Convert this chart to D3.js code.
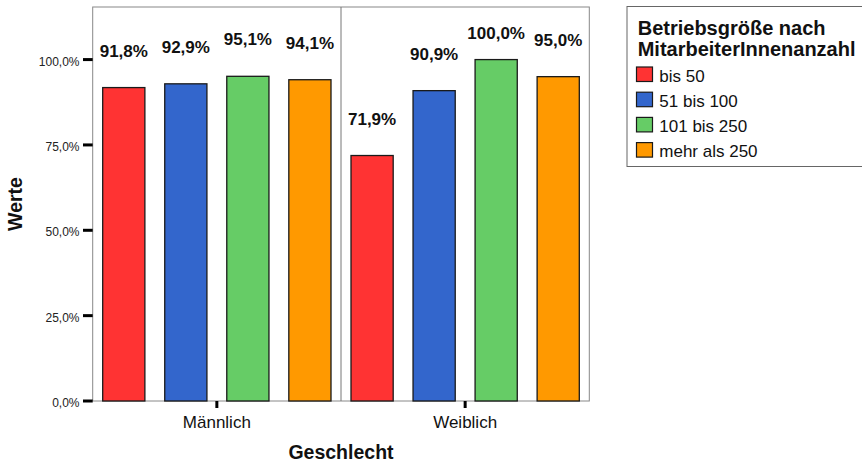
<!DOCTYPE html>
<html>
<head>
<meta charset="utf-8">
<script src="https://cdn.jsdelivr.net/npm/d3@7"></script>
<style>
  html, body { margin: 0; padding: 0; background: #fff; }
  svg { display: block; font-family: "Liberation Sans", Arial, Helvetica, sans-serif; }
</style>
</head>
<body>
<svg id="chart" width="862" height="466"></svg>
<script>
const categories = ["Männlich", "Weiblich"];
const seriesNames = ["bis 50", "51 bis 100", "101 bis 250", "mehr als 250"];
const seriesColors = ["#FF3333", "#3366CC", "#66CC66", "#FF9900"];
const maleValues = [91.8, 92.9, 95.1, 94.1];
const femaleValues = [71.9, 90.9, 100.0, 95.0];
const yTicks = [0, 25, 50, 75, 100];
const legendTitle = ["Betriebsgröße nach", "MitarbeiterInnenanzahl"];
const xTitle = "Geschlecht";
const yTitle = "Werte";

const valuesByCategory = [maleValues, femaleValues];

const svg = d3.select("#chart");
const plot = { left: 92.7, right: 589.3, top: 7, bottom: 401 };

const x = d3.scaleBand().domain(categories).range([plot.left, plot.right]).padding(0);
const xInner = d3.scaleBand().domain(seriesNames)
  .range([10, x.bandwidth() - 10]).paddingInner(0.32).paddingOuter(0);
const y = d3.scaleLinear().domain([0, 115.4]).range([plot.bottom, plot.top]);

const fmt = v => d3.format(".1f")(v).replace(".", ",") + "%";

// plot frame
svg.append("rect")
  .attr("x", plot.left).attr("y", plot.top)
  .attr("width", plot.right - plot.left).attr("height", plot.bottom - plot.top)
  .attr("fill", "none").attr("stroke", "#888").attr("stroke-width", 1);

// divider between categories
svg.append("line")
  .attr("x1", x("Weiblich")).attr("x2", x("Weiblich"))
  .attr("y1", plot.top).attr("y2", plot.bottom)
  .attr("stroke", "#777").attr("stroke-width", 1);

// bars
const groups = svg.selectAll("g.grp")
  .data(categories.map((c, i) => ({ cat: c, vals: valuesByCategory[i] })))
  .join("g").attr("class", "grp")
  .attr("transform", d => `translate(${x(d.cat)},0)`);

groups.selectAll("rect")
  .data(d => d.vals.map((v, i) => ({ name: seriesNames[i], v, color: seriesColors[i] })))
  .join("rect")
  .attr("x", d => xInner(d.name))
  .attr("width", xInner.bandwidth())
  .attr("y", d => y(d.v))
  .attr("height", d => y(0) - y(d.v))
  .attr("fill", d => d.color)
  .attr("stroke", "#1a1a1a").attr("stroke-width", 1.3);

groups.selectAll("text.lbl")
  .data(d => d.vals.map((v, i) => ({ name: seriesNames[i], v })))
  .join("text").attr("class", "lbl")
  .attr("x", d => xInner(d.name) + xInner.bandwidth() / 2)
  .attr("y", d => Math.max(y(d.v) - 31, 39))
  .attr("text-anchor", "middle")
  .attr("font-size", 17).attr("font-weight", "bold").attr("fill", "#111")
  .text(d => fmt(d.v));

// y axis
const yAxis = svg.append("g");
yAxis.selectAll("line").data(yTicks).join("line")
  .attr("x1", 83).attr("x2", plot.left)
  .attr("y1", d => y(d)).attr("y2", d => y(d))
  .attr("stroke", "#000").attr("stroke-width", 3);
yAxis.selectAll("text").data(yTicks).join("text")
  .attr("x", 79.5).attr("y", d => y(d)).attr("dy", "0.5em")
  .attr("text-anchor", "end").attr("font-size", 12).attr("fill", "#222")
  .text(d => fmt(d));

// x axis
const xAxis = svg.append("g");
xAxis.selectAll("line").data(categories).join("line")
  .attr("x1", d => x(d) + x.bandwidth() / 2).attr("x2", d => x(d) + x.bandwidth() / 2)
  .attr("y1", plot.bottom).attr("y2", plot.bottom + 7)
  .attr("stroke", "#000").attr("stroke-width", 3);
xAxis.selectAll("text").data(categories).join("text")
  .attr("x", d => x(d) + x.bandwidth() / 2).attr("y", 428.3)
  .attr("text-anchor", "middle").attr("font-size", 17).attr("fill", "#111")
  .text(d => d);

// axis titles
svg.append("text")
  .attr("x", (plot.left + plot.right) / 2).attr("y", 459.3)
  .attr("text-anchor", "middle").attr("font-size", 19.5).attr("font-weight", "bold")
  .attr("fill", "#111").text(xTitle);
svg.append("text")
  .attr("transform", `translate(21.7,${(plot.top + plot.bottom) / 2}) rotate(-90)`)
  .attr("text-anchor", "middle").attr("font-size", 19.5).attr("font-weight", "bold")
  .attr("fill", "#111").text(yTitle);

// legend
const lg = svg.append("g");
lg.append("rect")
  .attr("x", 627).attr("y", 6.5).attr("width", 250).attr("height", 160)
  .attr("fill", "#fff").attr("stroke", "#666").attr("stroke-width", 1);
lg.selectAll("text.title").data(legendTitle).join("text").attr("class", "title")
  .attr("x", 637.7).attr("y", (d, i) => 35 + i * 21)
  .attr("font-size", 20).attr("font-weight", "bold").attr("fill", "#111")
  .text(d => d);
const items = lg.selectAll("g.item").data(seriesNames).join("g").attr("class", "item")
  .attr("transform", (d, i) => `translate(636.5,${67 + i * 25.2})`);
items.append("rect")
  .attr("width", 16).attr("height", 14.5)
  .attr("fill", (d, i) => seriesColors[i])
  .attr("stroke", "#1a1a1a").attr("stroke-width", 1.2);
items.append("text")
  .attr("x", 22.8).attr("y", 14.5)
  .attr("font-size", 17).attr("fill", "#111")
  .text(d => d);
</script>
</body>
</html>
